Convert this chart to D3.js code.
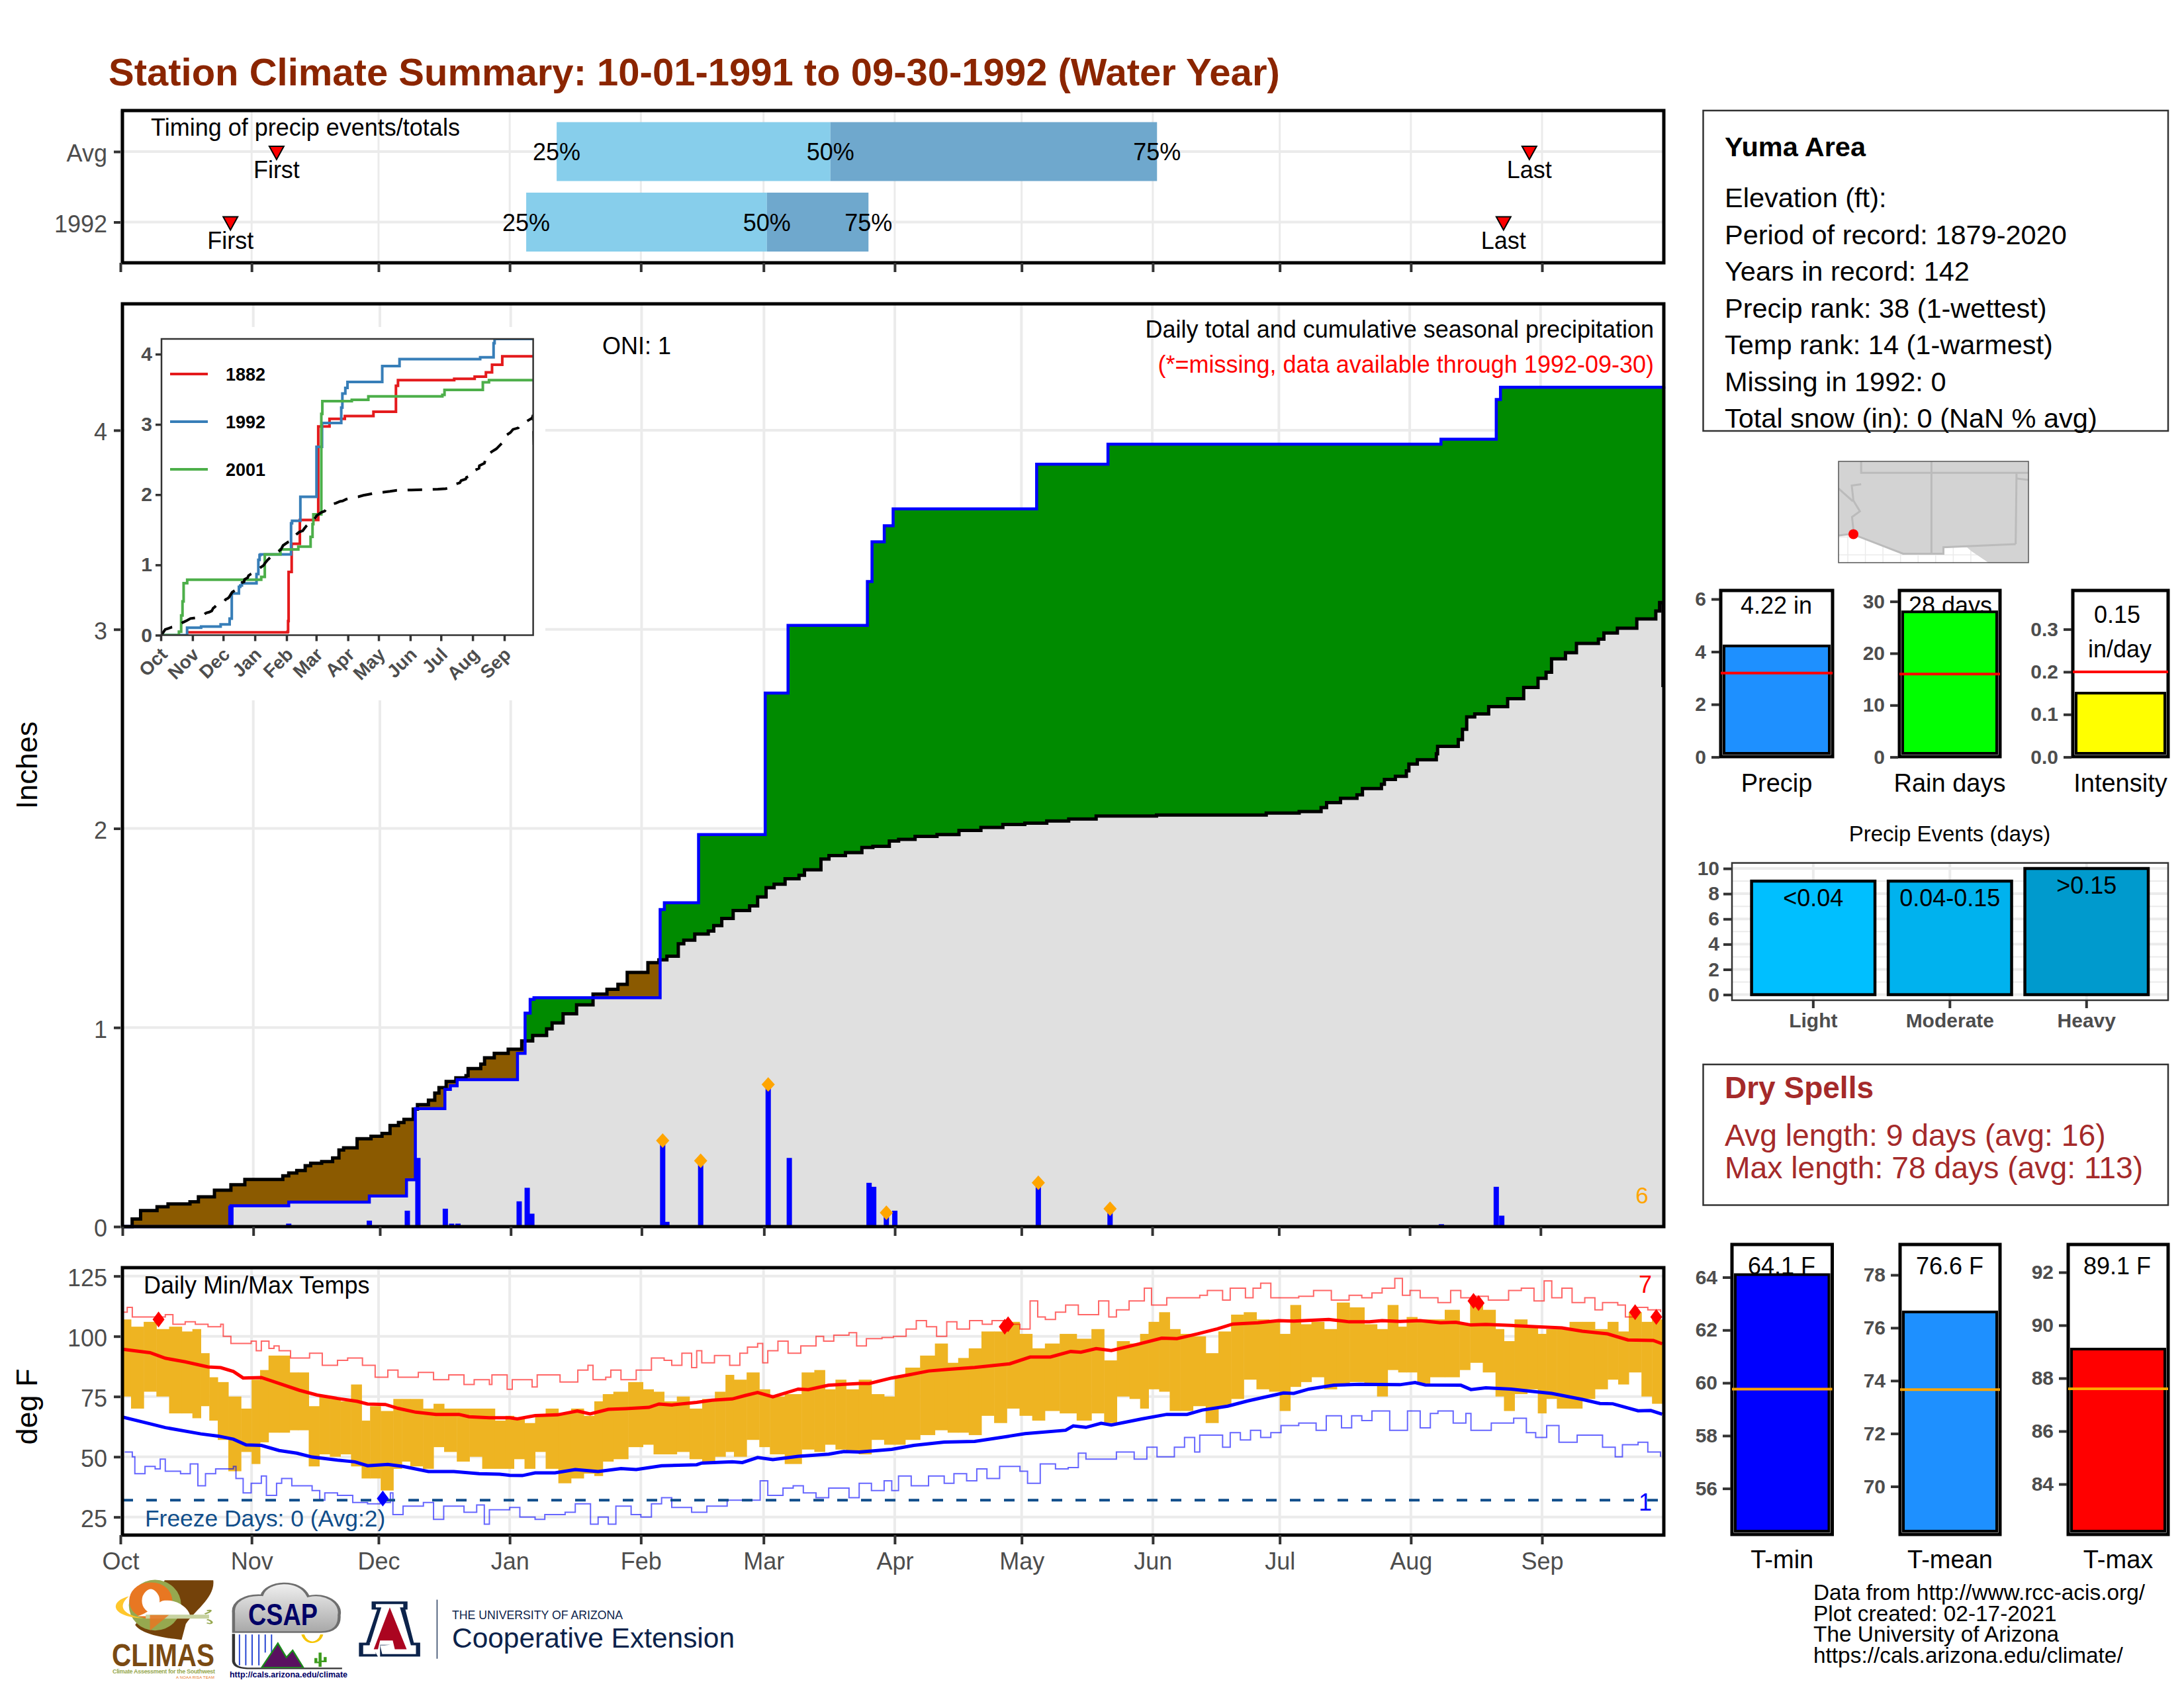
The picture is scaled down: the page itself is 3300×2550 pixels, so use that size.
<!DOCTYPE html>
<html><head><meta charset="utf-8">
<script src="https://cdn.jsdelivr.net/npm/d3@7"></script>
<style>html,body{margin:0;padding:0;background:#fff}svg{display:block}text{font-family:"Liberation Sans",Arial,sans-serif}</style>
</head><body><svg id="c" width="3300" height="2550" viewBox="0 0 3300 2550"></svg>
<script>
// ---------- DATA ----------
const monthNames=["Oct","Nov","Dec","Jan","Feb","Mar","Apr","May","Jun","Jul","Aug","Sep"];
const monthStarts=[0,31,61,92,123,152,183,213,244,274,305,336];
const timingRows=["Avg","1992"];
const timingQuart=[[103.1,167.8,245],[95.9,152.8,176.8]];
const timingFirst=[36.9,26];
const timingLast=[333,326.9];
// cumulative 1992 precipitation steps [day, inches]
const cum1992=[[0,0],[25.7,.105],[39.4,.123],[58.5,.154],[67.3,.235],[69.4,.593],[76.4,.689],[77.7,.707],[79.3,.738],[93.6,.87],[95.4,1.072],[96.6,1.141],[97.5,1.15],[127.4,1.593],[128.4,1.627],[136.5,1.969],[152.3,2.68],[157.7,3.02],[176.5,3.24],[177.6,3.44],[180.5,3.52],[182.6,3.605],[216.6,3.83],[233.5,3.93],[312.4,3.955],[325.5,4.155],[326.5,4.216],[365.2,4.22]];
// long-term mean cumulative precipitation steps
const cumAvg=[[0,0],[2.3,.038],[4.3,.081],[8.2,.1],[10.8,.114],[16,.125],[18,.15],[21.8,.183],[25.7,.21],[29,.237],[38,.255],[39.4,.269],[41.3,.282],[43.3,.306],[44.6,.318],[47.2,.327],[49.8,.345],[51.3,.385],[52.4,.396],[55.6,.441],[58.9,.454],[61.5,.468],[63.4,.508],[65.4,.523],[66.7,.539],[68.9,.59],[69.9,.613],[72.5,.635],[74,.671],[75,.698],[76.7,.729],[79,.747],[81.4,.758],[81.9,.794],[84.9,.816],[85.8,.848],[88.1,.87],[91.4,.891],[94.6,.933],[97.2,.96],[100.5,.993],[101.8,1.023],[104.4,1.069],[107.6,1.114],[111.5,1.168],[114.8,1.192],[117.4,1.217],[119.6,1.277],[124.5,1.326],[127.1,1.34],[129,1.358],[131.7,1.421],[133,1.439],[135.6,1.47],[138.8,1.485],[140.1,1.512],[142,1.548],[144.7,1.588],[148.6,1.611],[150.5,1.656],[152.5,1.702],[154.4,1.72],[157,1.747],[160.3,1.765],[161.6,1.792],[165.5,1.846],[167.4,1.864],[171.3,1.879],[175.2,1.904],[177.8,1.91],[181.7,1.937],[183.9,1.945],[187.8,1.96],[193,1.969],[198.2,1.99],[203.4,2.005],[208.6,2.02],[213.8,2.027],[219,2.037],[224.2,2.047],[230.7,2.062],[245,2.067],[271,2.077],[278.8,2.085],[284,2.105],[285.3,2.13],[288.6,2.151],[292.5,2.169],[293.8,2.2],[298.3,2.222],[299,2.246],[301.6,2.262],[304.2,2.289],[304.8,2.323],[306.8,2.345],[311.3,2.375],[311.6,2.412],[316.5,2.446],[317.5,2.498],[318.5,2.56],[320.4,2.575],[323.7,2.612],[328.2,2.652],[332,2.708],[335.4,2.754],[337.3,2.785],[338.6,2.852],[341.9,2.883],[344.5,2.929],[349.7,2.951],[351,2.982],[354.2,3.006],[358.8,3.052],[363.3,3.092],[364.2,3.135],[365,2.71]];
const dailyPrecip=[[25.7,.105],[39.4,.015],[58.5,.03],[67.5,.08],[70,.345],[71,.003],[76.5,.09],[78,.015],[79.5,.015],[94,.127],[95.9,.195],[97,.065],[128,.43],[129,.024],[137,.33],[153,.71],[158,.345],[176.9,.22],[178,.2],[181,.075],[183,.08],[217,.206],[234,.09],[312.5,.012],[325.5,.2],[326.8,.055]];
const precipMarks=[[128,.432],[137,.331],[153,.714],[181,.07],[217,.22],[234,.09]];
const years=["1882","1992","2001"];
const cum1882=[[26.5,.04],[124,.05],[124.5,.2],[125,.9],[128,1.3],[136,1.64],[154,2.97],[165,3.08],[180,3.12],[208,3.18],[230,3.55],[232,3.63],[287,3.65],[307,3.68],[318,3.74],[324,3.85],[334,3.97],[365,3.97]];
const cum2001=[[0,0],[17.7,.05],[19.9,.28],[21.2,.48],[22.3,.74],[25.8,.79],[98.2,.83],[101.7,1.15],[117,1.22],[134.5,1.26],[146.5,1.4],[148.4,1.58],[149.2,1.72],[157,3.15],[158,3.33],[186.8,3.35],[203,3.4],[275.4,3.42],[277.5,3.49],[315,3.6],[321,3.63],[365,3.63]];
// daily temperature bars (day, high, low)
const tempDays=[1,4,7,10,13,16,18,20,22,24,27,30,32,34,36,39,41,43,46,48,51,53,56,58,60,63,66,67,70,73,75,78,81,84,87,90,92,94,97,99,102,105,108,111,113,115,118,122,125,127,130,133,136,139,142,144,146,150,152,155,159,163,165,168,170,173,176,179,182,184,187,191,194,197,199,202,205,208,211,214,217,220,224,228,231,234,237,240,242,244,247,249,252,255,258,261,264,267,270,273,275,278,280,283,286,289,292,296,298,301,303,305,308,311,315,318,320,324,326,328,331,334,336,338,341,344,347,350,353,355,358,361,363];
const tempHigh=[107,104,106,103,104,102,103,93,83,81,75,70,82,86,92,92,85,85,71,75,74,73,80,65,71,69,74,74,74,70,72,70,70,70,70,65,67,66,64,67,70,68,70,67,73,76,77,81,78,77,73,75,70,74,77,84,82,85,78,75,76,85,86,78,82,78,82,76,75,83,87,92,97,89,91,95,102,102,106,101,95,97,101,99,103,90,98,97,101,106,110,103,101,100,93,102,109,110,107,106,101,113,105,106,103,114,112,105,103,113,104,108,107,107,111,105,114,111,103,98,107,104,101,103,103,106,106,103,106,102,110,106,107];
const tempLow=[75,70,77,75,68,68,66,71,65,57,44,52,47,56,60,60,61,61,46,51,50,51,46,41,41,36,45,48,46,45,54,52,48,50,45,45,45,49,45,52,45,39,41,43,42,48,49,54,55,51,51,52,49,47,50,52,50,57,54,51,47,53,52,55,53,52,51,57,55,55,57,59,61,60,60,59,67,64,70,67,65,69,68,65,68,64,75,74,70,78,77,69,69,71,64,71,74,82,78,77,69,79,81,83,78,80,81,80,75,86,85,85,80,83,83,86,89,85,75,69,76,78,68,74,70,70,74,78,82,80,85,75,72];
const avgHigh=[[.5,94.6],[7,93.2],[10.6,90.9],[15.3,89.4],[20.7,87.3],[23.7,87],[26.7,85.4],[29,82.7],[33.3,82.9],[36.9,80.8],[42.3,77.6],[46.5,75.6],[51.3,74.2],[56,73],[58.4,71.9],[62.6,71.7],[65.6,70.1],[69.8,68.5],[74.6,67.6],[80,67.6],[82.4,66.6],[87.2,66.2],[92,66.2],[93.8,65.7],[98,67.1],[103.3,67.4],[108,69],[111,67.8],[115.3,69.7],[119.5,70],[124.9,70.5],[127.3,71.9],[130.3,71.5],[136.2,72.6],[139.8,73.5],[144.6,74],[147.6,75.4],[150.6,76.7],[154.2,74.9],[160.2,78.1],[162.6,77.9],[167.4,79.7],[174.6,80.4],[177,80.4],[182.3,82.7],[186.3,84],[191,85.6],[195.9,86.3],[201.9,87.1],[210.2,88.6],[215,91.4],[219.8,91.4],[224.6,93.7],[227,93.4],[230.6,94.9],[234.2,94.1],[240.2,96.6],[246.1,99.2],[249.7,99],[254.5,101],[259.3,103.1],[262.9,105.1],[268.9,105.6],[273.7,106.5],[277.3,106.3],[285.6,107],[290.4,106],[295.2,106],[298.2,106.5],[302.4,106.2],[307.2,106.5],[312,105.6],[315.6,105.8],[319.2,104.7],[322.7,104.9],[328.7,104.5],[334.7,104],[340.7,103.5],[345.5,102.1],[351.5,101],[356.3,98.5],[362.3,98.3],[364.4,96.9]];
const avgLow=[[.5,66.5],[7,63.7],[10.6,62.1],[19,59.5],[23.1,58.6],[26.7,57.3],[29.7,54.9],[33.3,54.7],[37.5,52.6],[41.7,51.5],[45.3,49.9],[51.3,48.6],[55.4,47.9],[58.4,46.3],[63.2,46.8],[66.8,46],[72.8,43.9],[78.8,43.9],[84.8,43],[89.6,42.8],[92,42.3],[95,42.2],[98,43.3],[102.7,43.3],[107.5,44.7],[112.9,43.9],[118.3,45.1],[121.9,44.7],[127.9,46.3],[136.2,46.7],[137.4,47.4],[144.6,47.9],[147,47.6],[150.6,49.7],[154.2,48.8],[160.2,50.2],[167.4,51.1],[171,52.2],[174.6,52],[182.3,53.1],[187.5,54.7],[194.7,56.1],[201.9,56.4],[210.2,58.6],[213.8,59.6],[223.4,61],[225.2,62.8],[228.2,62.2],[231.8,63.9],[234.2,63.2],[241.4,65.7],[247.3,67.6],[252.1,67.6],[255.7,69.4],[261.7,71],[266.5,73.2],[274.9,76.5],[277.3,76.3],[280.9,78.1],[286.8,79.7],[292.8,80.1],[302.4,79.9],[306,80.8],[308.4,79.8],[316.8,79.7],[319.2,77.9],[322.7,78.6],[328.7,78.1],[332.3,77.4],[338.3,76.3],[345.5,73.8],[349.7,72.1],[352.7,72],[358.7,69.1],[361.7,69.2],[364.4,67.7]];
const recHigh=[[.5,110],[1.6,112],[2.8,108],[7,108],[10.6,109],[12.4,105],[15.3,106],[17.7,105],[20.7,104],[23.7,105],[24.3,100],[26.1,97],[30.9,98],[32.1,94],[33.3,98],[35.1,95],[36.3,96],[37.5,94],[40.2,91],[44.7,93],[47.7,88],[51.3,90],[53.7,91],[57.2,88],[60.2,83],[63.2,86],[65.6,83],[70.4,85],[74,82],[77.6,84],[81.2,80],[83.6,82],[87.2,80],[87.8,84],[91.4,78],[92.6,82],[97.3,79],[98.5,84],[103.9,81],[108.1,86],[110.5,88],[111.7,82],[114.7,83],[115.9,86],[118.3,82],[121.9,86],[125.5,91],[128.5,90],[130.3,88],[132.7,93],[135,87],[136.2,94],[137.4,89],[140.4,92],[144,88],[146.4,93],[148.2,95.5],[150.6,97],[151.8,89],[153,94],[155.4,98],[157.8,93],[160.8,96],[164.4,100],[166.2,98],[168.6,100.5],[172.2,101.5],[174,96],[176.3,99],[180,99.5],[182.7,100],[185.7,103],[188.1,106.5],[190.5,104],[192.9,100],[195.3,106],[197.7,103],[200.7,106.5],[203.7,105],[206,106.5],[209,105],[212.6,103],[215,114.7],[216.8,108],[218.6,107],[221,110],[223.4,113],[226.4,109],[231.2,114.7],[233.6,108],[235.4,111],[238.4,114.7],[242,120],[243.7,113],[247.3,116],[250.3,116],[255.1,117],[256.9,119],[260.5,115],[262.3,120],[265.9,116],[267.7,120],[269.5,122],[271.9,116],[278.5,116.6],[282,119],[286.2,115],[290.4,117],[293.4,116],[295.8,118],[298.2,120],[301.2,124],[303,117],[304.8,119],[307.2,116],[311.4,114],[314.4,119],[316.8,116],[319.8,116.6],[323.3,115],[328.1,119],[331.1,120],[334.1,114.7],[336.5,123],[338.3,116],[340.7,120],[343.1,114],[346.1,116],[348.5,111],[350.3,114],[353.9,113],[355.7,108],[358,112],[361,111],[364,110]];
const recLow=[[1,52],[2.8,50],[3.4,43],[5.8,46],[8.2,45],[9.4,49],[10.6,44],[14.2,43],[16.5,47],[18.3,38],[20.1,43],[22.5,45],[26.7,46],[27.3,41],[29,35],[30.9,39],[33.3,42],[34.5,34],[36.9,39],[38.1,41],[40.5,38],[45.3,36],[47.1,32],[48.3,35],[51.3,34],[54.9,31],[58.4,30.5],[61.4,31],[63.8,35],[64.4,26],[66.8,29.5],[71.6,31],[74,24],[76.4,29.5],[81.2,27],[84.2,30],[86,22],[87.2,28],[92,29],[94.4,25],[98,24],[100.3,26],[105.1,27],[107.5,30.5],[111.1,22],[112.9,25],[115.3,22],[117.1,29.5],[120.7,26],[123,25],[125.5,30.5],[127.9,33],[130.3,29],[135,27],[138.6,29.5],[143.4,32],[150.6,32],[151.2,40],[153,34],[156.6,37],[159,38],[161.4,35],[164.4,33],[167.4,37],[172.2,33],[174.6,39],[177.5,36],[180.5,40],[182.3,36],[183.9,42],[186.9,38],[189.9,38],[191,42],[194.7,39],[197,43],[200,40],[202.4,45],[204.8,41],[207.8,46],[212.6,44],[214.4,39],[217.4,47],[221,45],[224,45.5],[226.4,51.5],[228.2,49],[235.4,52],[239.6,49],[242.6,54],[245,50],[249.1,54],[251.5,58],[253.9,52],[255.1,59],[260.5,54],[262.3,60],[264.7,57],[267.1,61],[269.5,58],[271.9,60],[274.3,63],[278.5,64],[282.6,61],[285,67],[288.6,62],[291,67],[293.4,65],[295.8,69],[300,61],[304.2,69],[307.2,62],[309.6,68],[311.4,69],[315,64],[318,68],[319.2,61],[324,64],[329.3,66],[332.3,60],[334.5,58],[337.1,63],[340,56],[344.3,59],[350.3,54],[353.3,50],[355,55],[358.7,56],[361,52],[364,50]];
const hotMarks=[[9,107],[209,104],[209.8,105],[319.8,114.7],[321,113.8],[358,110],[363,108]];
const coldMarks=[[62,32.7]];
const freezeLine=32;
// right-hand summary bars
const infoLines=["Elevation (ft):","Period of record: 1879-2020","Years in record: 142","Precip rank: 38 (1-wettest)","Temp rank: 14 (1-warmest)","Missing in 1992: 0","Total snow (in): 0 (NaN % avg)"];
const eventCats=["Light","Moderate","Heavy"];
const eventVals=[9,9,10];
const eventNames=["<0.04","0.04-0.15",">0.15"];
const eventFills=["#00BFFF","#00B2EE","#009ACD"];
const footer=["Data from http://www.rcc-acis.org/","Plot created: 02-17-2021","The University of Arizona","https://cals.arizona.edu/climate/"];
// map (lon, lat)
const mapLand=[[-115.66,32.6],[-114.72,32.72],[-111.07,31.33],[-108.2,31.33],[-108.2,31.78],[-106.53,31.78],[-106.2,31.5],[-105,30.7],[-102.15,30.7],[-102.15,37.8],[-115.66,37.8]];
const mapBorders=[
 [[-115.66,32.6],[-114.72,32.72],[-111.07,31.33],[-108.2,31.33],[-108.2,31.78],[-103.06,32]],
 [[-114.05,37.8],[-114.05,37],[-103,37],[-102.15,37]],
 [[-114.05,36.2],[-114.72,36.1],[-114.6,35.05],[-114.14,34.3],[-114.7,33.9],[-114.6,33],[-114.72,32.72]],
 [[-115.66,35.9],[-114.63,35]],
 [[-109.05,37.8],[-109.05,31.33]],
 [[-103,37],[-103.06,32]],
 [[-103,36.6],[-102.15,36.5]]];
const stationPt=[-114.6,32.7];
const lonGrid=[-115,-113.75,-112.5,-111.25,-110,-108.75,-107.5,-106.25];
const latGrid=[31.25,32.5];

// ---------- LAYOUT ----------
const svg=d3.select("#c");
const GRAY="#4D4D4D",GRID="#EBEBEB",FS=36;
const dayTop=d3.scaleLinear().domain([0,336]).range([182,2330]);
const dayMain=d3.scaleLinear().domain([0,365.2]).range([185,2514]);
const P={l:185,r:2514};
function txt(g,x,y,s,o={}){return g.append("text").attr("x",x).attr("y",y).text(s).attr("font-size",o.size||FS).attr("fill",o.fill||"#000").attr("text-anchor",o.anchor||"start").attr("font-weight",o.weight||"normal").attr("font-family",o.family||null);}
function styleAxis(sel,o={}){sel.select(".domain").remove();sel.selectAll("line").attr("stroke",o.tick||"#333").attr("stroke-width",o.tw||4);const t=sel.selectAll("text").attr("fill",o.fill||GRAY).attr("font-size",o.size||FS).attr("font-weight",o.weight||"normal");if(o.dy)t.attr("dy",o.dy);}
const frame=(x0,y0,x1,y1,sw,c)=>svg.append("rect").attr("x",x0).attr("y",y0).attr("width",x1-x0).attr("height",y1-y0).attr("fill","none").attr("stroke",c||"#000").attr("stroke-width",sw);
svg.append("rect").attr("width",3300).attr("height",2550).attr("fill","#fff");
txt(svg,164,129,"Station Climate Summary: 10-01-1991 to 09-30-1992 (Water Year)",{size:58,weight:"bold",fill:"#8B2500"});

// ---------- TIMING PANEL ----------
(function(){
 const T={t:167,b:397};
 const y=d3.scalePoint().domain(timingRows).range([229,335.5]);
 const g=svg.append("g");
 g.selectAll("line.gy").data(timingRows).join("line").attr("class","gy").attr("x1",P.l).attr("x2",P.r).attr("y1",d=>y(d)).attr("y2",d=>y(d)).attr("stroke",GRID).attr("stroke-width",4);
 g.selectAll("line.gx").data(monthStarts).join("line").attr("class","gx").attr("x1",d=>dayTop(d)).attr("x2",d=>dayTop(d)).attr("y1",T.t).attr("y2",T.b).attr("stroke",GRID).attr("stroke-width",3);
 const bh=44.5;
 timingRows.forEach((r,i)=>{const q=timingQuart[i],yy=y(r);
  g.append("rect").attr("x",dayTop(q[0])).attr("width",dayTop(q[1])-dayTop(q[0])).attr("y",yy-bh).attr("height",2*bh).attr("fill","#87CEEB");
  g.append("rect").attr("x",dayTop(q[1])).attr("width",dayTop(q[2])-dayTop(q[1])).attr("y",yy-bh).attr("height",2*bh).attr("fill","#6FA8CD");
  ["25%","50%","75%"].forEach((l,k)=>txt(g,dayTop(q[k]),yy+13,l,{anchor:"middle"}));
  [[timingFirst[i],"First"],[timingLast[i],"Last"]].forEach(([d,l])=>{
   const x=dayTop(d);
   g.append("path").attr("d",`M${x-11},${yy-8}L${x+11},${yy-8}L${x},${yy+12}Z`).attr("fill","#F00").attr("stroke","#000").attr("stroke-width",2);
   txt(g,x,yy+40,l,{anchor:"middle"});
  });
 });
 txt(g,228,205,"Timing of precip events/totals");
 frame(P.l,T.t,P.r,T.b,5);
 svg.append("g").attr("transform",`translate(${P.l-3},0)`).call(d3.axisLeft(y).tickSize(10).tickPadding(10)).call(styleAxis,{dy:".41em"});
 svg.append("g").attr("transform",`translate(0,${T.b})`).call(d3.axisBottom(dayTop).tickValues(monthStarts).tickSize(14).tickFormat("")).call(styleAxis);
})();

// ---------- MAIN PRECIP PANEL ----------
(function(){
 const M={t:459,b:1853};
 const y=d3.scaleLinear().domain([0,4]).range([1853,650]);
 const g=svg.append("g");
 g.selectAll("line.gy").data([1,2,3,4]).join("line").attr("class","gy").attr("x1",P.l).attr("x2",P.r).attr("y1",d=>y(d)).attr("y2",d=>y(d)).attr("stroke",GRID).attr("stroke-width",4);
 g.selectAll("line.gx").data(monthStarts).join("line").attr("class","gx").attr("x1",d=>dayMain(d)).attr("x2",d=>dayMain(d)).attr("y1",M.t).attr("y2",M.b).attr("stroke",GRID).attr("stroke-width",4);
 g.append("rect").attr("x",188).attr("y",494).attr("width",636).attr("height",564).attr("fill","#fff");
 const val=(arr,d)=>{const i=d3.bisectRight(arr.map(a=>a[0]),d)-1;return i<0?0:arr[i][1];};
 const days=Array.from(new Set([...cum1992.map(a=>a[0]),...cumAvg.map(a=>a[0])])).sort(d3.ascending);
 const rows=days.map(d=>({d,c:val(cum1992,d),a:val(cumAvg,d)}));
 const ar=(f0,f1)=>d3.area().curve(d3.curveStepAfter).x(r=>dayMain(r.d)).y0(r=>y(f0(r))).y1(r=>y(f1(r)));
 g.append("path").attr("d",ar(r=>0,r=>Math.min(r.a,r.c))(rows)).attr("fill","#E0E0E0");
 g.append("path").attr("d",ar(r=>r.a,r=>Math.max(r.a,r.c))(rows)).attr("fill","#008B00");
 g.append("path").attr("d",ar(r=>Math.min(r.a,r.c),r=>r.a)(rows)).attr("fill","#8B5A00");
 const ln=d3.line().curve(d3.curveStepAfter).x(a=>dayMain(a[0])).y(a=>y(a[1]));
 g.append("path").attr("d",ln(cumAvg)).attr("fill","none").attr("stroke","#000").attr("stroke-width",5);
 g.append("path").attr("d",ln(cum1992)).attr("fill","none").attr("stroke","#00F").attr("stroke-width",4.5);
 g.selectAll("rect.bar").data(dailyPrecip).join("rect").attr("class","bar").attr("x",a=>dayMain(a[0])-4).attr("width",8).attr("y",a=>y(a[1])).attr("height",a=>y(0)-y(a[1])).attr("fill","#00F");
 g.selectAll("path.mk").data(precipMarks).join("path").attr("class","mk").attr("d",a=>`M${dayMain(a[0])},${y(a[1])-11}l10,11l-10,11l-10,-11Z`).attr("fill","#FFA500");
 txt(g,2481,1818,"6",{size:35,fill:"#FFA500",anchor:"middle"});
 txt(g,2499,510,"Daily total and cumulative seasonal precipitation",{anchor:"end"});
 txt(g,2499,563,"(*=missing, data available through 1992-09-30)",{anchor:"end",fill:"#F00"});
 txt(g,910,535,"ONI: 1");
 frame(P.l,M.t,P.r,M.b,5);
 svg.append("g").attr("transform",`translate(${P.l-3},0)`).call(d3.axisLeft(y).tickValues([0,1,2,3,4]).tickFormat(d3.format("d")).tickSize(10).tickPadding(10)).call(styleAxis,{dy:".41em"});
 svg.append("g").attr("transform",`translate(0,${M.b})`).call(d3.axisBottom(dayMain).tickValues(monthStarts).tickSize(14).tickFormat("")).call(styleAxis);
 svg.append("text").attr("transform","translate(56,1156) rotate(-90)").attr("text-anchor","middle").attr("font-size",45).text("Inches");

 // inset
 const ix=d3.scaleLinear().domain([0,336]).range([243,762]);
 const iy=d3.scaleLinear().domain([0,4]).range([959.5,535]);
 const I=svg.append("g");
 const il=d3.line().curve(d3.curveStepAfter).x(a=>ix(a[0])).y(a=>iy(a[1]));
 const cols=["#E41A1C","#377EB8","#4DAF4A"],series=[cum1882,cum1992,cum2001];
 svg.append("clipPath").attr("id","insetClip").append("rect").attr("x",244).attr("y",512).attr("width",562).attr("height",448);
 series.forEach((s,i)=>I.append("path").attr("d",il(s)).attr("fill","none").attr("stroke",cols[i]).attr("stroke-width",4).attr("clip-path","url(#insetClip)"));
 const il2=d3.line().x(a=>ix(a[0])).y(a=>iy(a[1]));
 I.append("path").attr("d",il2(cumAvg)).attr("fill","none").attr("stroke","#000").attr("stroke-width",4).attr("stroke-dasharray","22 16").attr("clip-path","url(#insetClip)");
 years.forEach((yr,i)=>{const yy=[565,637,709][i];
  I.append("line").attr("x1",257).attr("x2",314).attr("y1",yy).attr("y2",yy).attr("stroke",cols[i]).attr("stroke-width",4);
  txt(I,341,yy+10,yr,{size:27,weight:"bold"});});
 frame(244,512,805.6,959.5,2.5,"#333");
 I.append("g").attr("transform","translate(244,0)").call(d3.axisLeft(iy).tickValues([0,1,2,3,4]).tickFormat(d3.format("d")).tickSize(9).tickPadding(5)).call(styleAxis,{size:30,weight:"bold",tw:3.5});
 const ax=I.append("g").attr("transform","translate(0,959.5)").call(d3.axisBottom(ix).tickValues(monthStarts).tickFormat((d,i)=>monthNames[i]).tickSize(9).tickPadding(4)).call(styleAxis,{size:28,weight:"bold",tw:3.5});
 ax.selectAll("text").attr("text-anchor","end").attr("transform","rotate(-45)").attr("dx","-14px").attr("dy","0.6em");
})();

// ---------- TEMPERATURE PANEL ----------
(function(){
 const Tp={t:1915,b:2319};
 const y=d3.scaleLinear().domain([25,125]).range([2291.7,1927.7]);
 svg.append("clipPath").attr("id","tempClip").append("rect").attr("x",P.l).attr("y",Tp.t).attr("width",P.r-P.l).attr("height",Tp.b-Tp.t);
 const g=svg.append("g").attr("clip-path","url(#tempClip)");
 g.selectAll("line.gy").data([25,50,75,100,125]).join("line").attr("class","gy").attr("x1",P.l).attr("x2",P.r).attr("y1",d=>y(d)).attr("y2",d=>y(d)).attr("stroke",GRID).attr("stroke-width",4);
 g.selectAll("line.gx").data(monthStarts).join("line").attr("class","gx").attr("x1",d=>dayTop(d)).attr("x2",d=>dayTop(d)).attr("y1",Tp.t).attr("y2",Tp.b).attr("stroke",GRID).attr("stroke-width",4);
 g.selectAll("rect.t").data(tempDays).join("rect").attr("class","t").attr("x",(d,i)=>dayTop(i?(tempDays[i-1]+d)/2:0))
  .attr("width",(d,i)=>dayTop(i<tempDays.length-1?(d+tempDays[i+1])/2:365.5)-dayTop(i?(tempDays[i-1]+d)/2:0)+.5)
  .attr("y",(d,i)=>y(tempHigh[i])).attr("height",(d,i)=>y(tempLow[i])-y(tempHigh[i])).attr("fill","#EEB422");
 const st=d3.line().curve(d3.curveStepAfter).x(a=>dayTop(a[0])).y(a=>y(a[1]));
 const sm=d3.line().x(a=>dayTop(a[0])).y(a=>y(a[1]));
 g.append("path").attr("d",st(recHigh)).attr("fill","none").attr("stroke","#F00").attr("stroke-opacity",.6).attr("stroke-width",2);
 g.append("path").attr("d",st(recLow)).attr("fill","none").attr("stroke","#00F").attr("stroke-opacity",.6).attr("stroke-width",2);
 g.append("path").attr("d",sm(avgHigh)).attr("fill","none").attr("stroke","#F00").attr("stroke-width",5);
 g.append("path").attr("d",sm(avgLow)).attr("fill","none").attr("stroke","#00F").attr("stroke-width",5);
 g.append("line").attr("x1",P.l).attr("x2",P.r).attr("y1",y(freezeLine)).attr("y2",y(freezeLine)).attr("stroke","#104E8B").attr("stroke-width",4).attr("stroke-dasharray","16 20");
 const dm=(data,cls,c)=>g.selectAll("path."+cls).data(data).join("path").attr("class",cls).attr("d",a=>`M${dayTop(a[0])},${y(a[1])-12}l9,12l-9,12l-9,-12Z`).attr("fill",c);
 dm(hotMarks,"hot","#F00");dm(coldMarks,"cold","#00F");
 txt(svg,217,1954,"Daily Min/Max Temps");
 txt(svg,219,2306,"Freeze Days: 0 (Avg:2)",{size:35.4,fill:"#104E8B"});
 txt(svg,2486,1953,"7",{fill:"#F00",anchor:"middle"});
 txt(svg,2486,2282,"1",{fill:"#00F",anchor:"middle"});
 frame(P.l,Tp.t,P.r,Tp.b,5);
 svg.append("g").attr("transform",`translate(${P.l-3},0)`).call(d3.axisLeft(y).tickValues([25,50,75,100,125]).tickSize(10).tickPadding(10)).call(styleAxis,{dy:".41em"});
 svg.append("g").attr("transform",`translate(0,${Tp.b})`).call(d3.axisBottom(dayTop).tickValues(monthStarts).tickFormat((d,i)=>monthNames[i]).tickSize(14).tickPadding(12)).call(styleAxis);
 svg.append("text").attr("transform","translate(56,2125) rotate(-90)").attr("text-anchor","middle").attr("font-size",45).text("deg F");
})();

// ---------- INFO BOX ----------
(function(){
 frame(2573.5,167,3276,651,2.5,"#333");
 txt(svg,2606,236,"Yuma Area",{size:41.5,weight:"bold"});
 infoLines.forEach((l,i)=>txt(svg,2606,313+i*55.5,l,{size:41.5}));
})();

// ---------- MAP ----------
(function(){
 const x=d3.scaleLinear().domain([-115.66,-102.15]).range([2778,3065]);
 const y=d3.scaleLinear().domain([30.7,37.8]).range([850,697]);
 svg.append("clipPath").attr("id","mapClip").append("rect").attr("x",2778).attr("y",697).attr("width",287).attr("height",153);
 const g=svg.append("g").attr("clip-path","url(#mapClip)");
 g.selectAll("line.a").data(lonGrid).join("line").attr("class","a").attr("x1",d=>x(d)).attr("x2",d=>x(d)).attr("y1",697).attr("y2",850).attr("stroke",GRID).attr("stroke-width",1.5);
 g.selectAll("line.b").data(latGrid).join("line").attr("class","b").attr("x1",2778).attr("x2",3065).attr("y1",d=>y(d)).attr("y2",d=>y(d)).attr("stroke",GRID).attr("stroke-width",1.5);
 const ln=d3.line().x(a=>x(a[0])).y(a=>y(a[1]));
 g.append("path").attr("d",ln(mapLand)+"Z").attr("fill","#D3D3D3");
 mapBorders.forEach(b=>g.append("path").attr("d",ln(b)).attr("fill","none").attr("stroke","#BBB").attr("stroke-width",3));
 g.append("circle").attr("cx",x(stationPt[0])).attr("cy",y(stationPt[1])).attr("r",7.5).attr("fill","#F00");
 frame(2778,697,3065,850,1.5,"#555");
})();

// ---------- SMALL BARS ----------
function smallBar(o){
 const y=d3.scaleLinear().domain(o.dom).range(o.rng);
 svg.append("rect").attr("x",o.x0).attr("y",o.t).attr("width",o.x1-o.x0).attr("height",o.b-o.t).attr("fill","#fff").attr("stroke","#000").attr("stroke-width",5);
 (o.labels||[]).forEach(l=>txt(svg,l[0],l[1],l[2],{anchor:"middle",size:o.ls||36}));
 const inset=5;
 svg.append("rect").attr("x",o.x0+inset).attr("width",o.x1-o.x0-2*inset).attr("y",y(o.v)).attr("height",o.b-inset-y(o.v)).attr("fill",o.fill).attr("stroke","#000").attr("stroke-width",4);
 svg.append("line").attr("x1",o.x0).attr("x2",o.x1).attr("y1",y(o.ref)).attr("y2",y(o.ref)).attr("stroke",o.rc).attr("stroke-width",4);
 svg.append("g").attr("transform",`translate(${o.x0-2},0)`).call(d3.axisLeft(y).tickValues(o.ticks).tickFormat(o.fmt||d3.format("d")).tickSize(12).tickPadding(8)).call(styleAxis,{size:30,weight:"bold",tw:4});
 txt(svg,(o.x0+o.x1)/2,o.xy,o.name,{anchor:"middle",size:38});
}
const barNames=["Precip","Rain days","Intensity"];
const barVals=[4.22,28,0.15];
const barRefs=[3.19,16,0.2];
const tempNames=["T-min","T-mean","T-max"];
const tempVals=[64.1,76.6,89.1];
const tempRefs=[59.76,73.66,87.6];
smallBar({x0:2600,x1:2769,t:892,b:1143,dom:[0,6],rng:[1143.6,905],v:barVals[0],ref:barRefs[0],rc:"#F00",fill:"#1E90FF",ticks:[0,2,4,6],name:barNames[0],xy:1196,labels:[[2684,927,"4.22 in"]]});
smallBar({x0:2870,x1:3022,t:892,b:1143,dom:[0,30],rng:[1143.6,908.6],v:barVals[1],ref:barRefs[1],rc:"#F00",fill:"#00FF00",ticks:[0,10,20,30],name:barNames[1],xy:1196,labels:[[2947,927,"28 days"]]});
smallBar({x0:3132,x1:3276,t:892,b:1143,dom:[0,.3],rng:[1143.6,950.6],v:barVals[2],ref:barRefs[2],rc:"#F00",fill:"#FFFF00",ticks:[0,.1,.2,.3],fmt:d3.format(".1f"),name:barNames[2],xy:1196,labels:[[3199,941,"0.15"],[3203,993,"in/day"]]});
smallBar({x0:2617,x1:2768.5,t:1880,b:2318,dom:[56,64],rng:[2248.6,1929.5],v:tempVals[0],ref:tempRefs[0],rc:"#FFA500",fill:"#0000FF",ticks:[56,58,60,62,64],name:tempNames[0],xy:2369,labels:[[2692,1925,"64.1 F"]]});
smallBar({x0:2871,x1:3022,t:1880,b:2318,dom:[70,78],rng:[2245.5,1926],v:tempVals[1],ref:tempRefs[1],rc:"#FFA500",fill:"#1E90FF",ticks:[70,72,74,76,78],name:tempNames[1],xy:2369,labels:[[2946,1925,"76.6 F"]]});
smallBar({x0:3125,x1:3276,t:1880,b:2318,dom:[84,92],rng:[2242,1922],v:tempVals[2],ref:tempRefs[2],rc:"#FFA500",fill:"#FF0000",ticks:[84,86,88,90,92],name:tempNames[2],xy:2369,labels:[[3199,1925,"89.1 F"]]});

// ---------- EVENTS ----------
(function(){
 const x=d3.scaleBand().domain(eventCats).range([2646.6,3246]).paddingInner(.097).paddingOuter(0);
 const y=d3.scaleLinear().domain([0,10]).range([1502.6,1312]);
 const t=1303.6,b=1511,l=2617,r=3276;
 txt(svg,2946,1271,"Precip Events (days)",{anchor:"middle",size:33});
 const g=svg.append("g");
 g.selectAll("line.m").data([1,3,5,7,9]).join("line").attr("class","m").attr("x1",l).attr("x2",r).attr("y1",d=>y(d)).attr("y2",d=>y(d)).attr("stroke",GRID).attr("stroke-width",2);
 g.selectAll("line.j").data([0,2,4,6,8,10]).join("line").attr("class","j").attr("x1",l).attr("x2",r).attr("y1",d=>y(d)).attr("y2",d=>y(d)).attr("stroke",GRID).attr("stroke-width",4);
 g.selectAll("line.v").data(eventCats).join("line").attr("class","v").attr("x1",d=>x(d)+x.bandwidth()/2).attr("x2",d=>x(d)+x.bandwidth()/2).attr("y1",t).attr("y2",b).attr("stroke",GRID).attr("stroke-width",4);
 g.selectAll("rect.b").data(eventCats).join("rect").attr("class","b").attr("x",d=>x(d)).attr("width",x.bandwidth()).attr("y",(d,i)=>y(eventVals[i])).attr("height",(d,i)=>y(0)-y(eventVals[i])).attr("fill",(d,i)=>eventFills[i]).attr("stroke","#000").attr("stroke-width",4.5);
 eventCats.forEach((c,i)=>txt(g,x(c)+x.bandwidth()/2,y(eventVals[i])+38,eventNames[i],{anchor:"middle",size:36}));
 frame(l,t,r,b,2.5,"#333");
 svg.append("g").attr("transform",`translate(${l-1},0)`).call(d3.axisLeft(y).tickValues([0,2,4,6,8,10]).tickSize(12).tickPadding(6)).call(styleAxis,{size:30,weight:"bold"});
 svg.append("g").attr("transform",`translate(0,${b})`).call(d3.axisBottom(x).tickSize(12).tickPadding(8)).call(styleAxis,{size:30,weight:"bold"});
})();

// ---------- DRY SPELLS ----------
frame(2573.5,1608,3276,1820.5,2.5,"#333");
txt(svg,2606,1659,"Dry Spells",{size:46,weight:"bold",fill:"#A52A2A"});
txt(svg,2606,1730.6,"Avg length: 9 days (avg: 16)",{size:46.3,fill:"#A52A2A"});
txt(svg,2606,1780,"Max length: 78 days (avg: 113)",{size:46.3,fill:"#A52A2A"});

// ---------- FOOTER ----------
footer.forEach((l,i)=>txt(svg,2740,2417+i*31.5,l,{size:33.4}));

// ---------- LOGOS ----------
(function(){
 const defs=svg.append("defs");
 const lg=defs.append("linearGradient").attr("id","cg").attr("x1",0).attr("x2",0).attr("y1",0).attr("y2",1);
 lg.append("stop").attr("offset",0).attr("stop-color","#F0F0F0");lg.append("stop").attr("offset",1).attr("stop-color","#A8A8A8");
 const g=svg.append("g").attr("transform","translate(150,2300) scale(.638,.333)");
 // CLIMAS emblem
 g.append("path").attr("d","M155,262L270,262C275,340 225,400 205,460L195,532C130,520 95,495 85,465Z").attr("fill","#74420A");
 g.append("ellipse").attr("cx",132).attr("cy",375).attr("rx",62).attr("ry",115).attr("fill","#96A84F");
 g.append("ellipse").attr("cx",122).attr("cy",355).attr("rx",36).attr("ry",68).attr("fill","#fff").attr("stroke","#E87722").attr("stroke-width",30);
 g.append("path").attr("d","M70,335C20,360 30,430 105,435C60,420 40,385 70,335Z").attr("fill","#FFC72C");
 g.append("path").attr("d","M150,355C190,345 215,400 215,425L90,425C120,410 130,370 150,355Z").attr("fill","#fff");
 g.append("rect").attr("x",110).attr("y",418).attr("width",150).attr("height",18).attr("fill","#C7D2A0");
 g.append("path").attr("d","M120,420L165,420L120,490Z").attr("fill","#E87722").attr("opacity",.85);
 g.append("path").attr("d","M250,415C270,400 265,395 255,400M255,440C275,450 265,465 255,455").attr("fill","none").attr("stroke","#96A84F").attr("stroke-width",5);
 // CSAP cloud
 g.append("path").attr("d","M318,497L318,410C315,360 345,325 385,330C395,265 475,250 495,335C535,315 575,365 568,420C570,470 555,497 525,497Z").attr("fill","url(#cg)").attr("stroke","#6E6E6E").attr("stroke-width",7);
 g.append("path").attr("d","M318,505L318,630C320,655 335,662 360,662L575,662").attr("fill","none").attr("stroke","#333").attr("stroke-width",7);
 [332,347,362,378,393,408].forEach((xx,i)=>g.append("line").attr("x1",xx).attr("x2",xx).attr("y1",508).attr("y2",i>3?590:648).attr("stroke","#1F3FD0").attr("stroke-width",3));
 g.append("path").attr("d","M385,657L423,548L443,612L458,580L483,657Z").attr("fill","#5A1060").attr("stroke","#1A8A1A").attr("stroke-width",4);
 g.append("path").attr("d","M482,508C490,555 520,555 527,508").attr("fill","none").attr("stroke","#F5C400").attr("stroke-width",7);
 g.append("path").attr("d","M523,590L523,655M513,615L513,635L523,635M535,610L535,630L523,630").attr("fill","none").attr("stroke","#3C9A1C").attr("stroke-width",7);
 // UA block A
 g.append("path").attr("d","M645,358L730,358L730,395L725,395L745,545L760,545L760,608L665,608L665,545L682,545L640,545L660,608L615,608L615,545L632,545L658,395L645,395Z").attr("fill","#0C234B");
 g.append("path").attr("d","M655,370L720,370L720,385L712,385L738,557L750,557L750,597L670,597L665,557L675,557L690,555L650,555L655,597L625,597L625,557L640,557L668,385L655,385Z").attr("fill","#fff");
 g.append("path").attr("d","M688,385L728,575L700,575L695,535L665,535L660,575L650,575Z").attr("fill","#AB0520");
 g.append("line").attr("x1",800).attr("x2",800).attr("y1",350).attr("y2",618).attr("stroke","#0C234B").attr("stroke-width",2);
 txt(svg,169,2517,"CLIMAS",{size:48,family:"Liberation Serif",fill:"#7A4A12",weight:"bold"}).attr("textLength",155).attr("lengthAdjust","spacingAndGlyphs");
 txt(svg,170,2527.5,"Climate Assessment for the Southwest",{size:9,fill:"#96A84F",weight:"bold"}).attr("textLength",155);
 txt(svg,266,2536,"A NOAA RISA TEAM",{size:6,fill:"#E87722"}).attr("textLength",58);
 txt(svg,375,2455,"CSAP",{size:46,weight:"bold",fill:"#000066"}).attr("textLength",105).attr("lengthAdjust","spacingAndGlyphs");
 txt(svg,347,2534,"http://cals.arizona.edu/climate",{size:12,weight:"bold",fill:"#000066"}).attr("textLength",178).attr("lengthAdjust","spacingAndGlyphs");
 txt(svg,683,2446,"THE UNIVERSITY OF ARIZONA",{size:19,fill:"#0C234B",family:"Open Sans"}).attr("textLength",258).attr("lengthAdjust","spacingAndGlyphs");
 txt(svg,683,2489,"Cooperative Extension",{size:42,fill:"#0C234B",family:"Open Sans"}).attr("textLength",427).attr("lengthAdjust","spacingAndGlyphs");
})();
</script></body></html>
